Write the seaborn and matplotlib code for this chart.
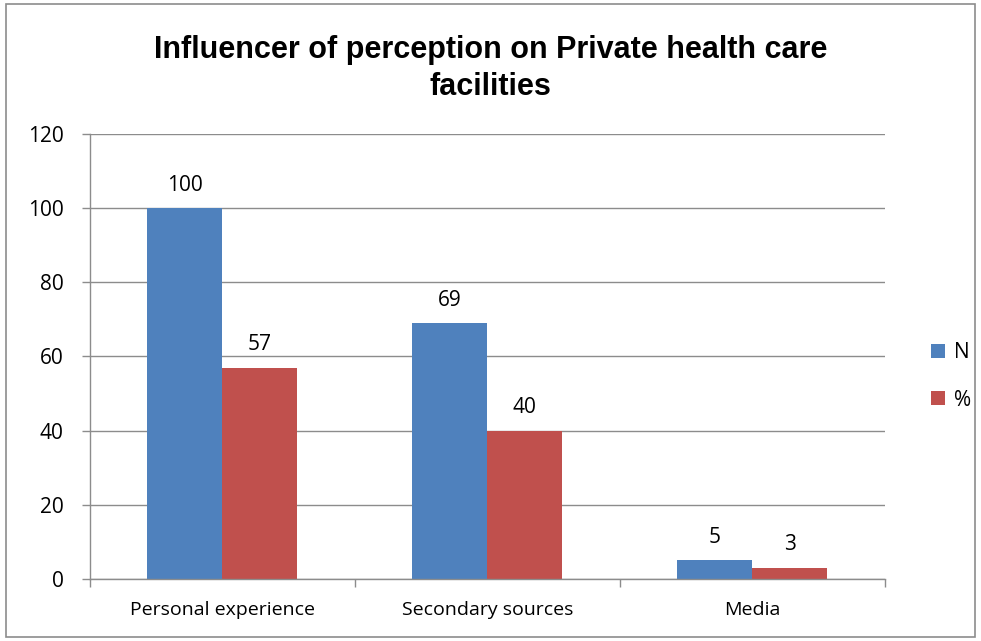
import matplotlib
matplotlib.use("Agg")
import matplotlib.pyplot as plt
import seaborn as sns
import pandas as pd
from matplotlib.patches import Rectangle

categories = ["Personal experience", "Secondary sources", "Media"]
series = ["N", "%"]
n_values = [100, 69, 5]
pct_values = [57, 40, 3]
yticks = [0, 20, 40, 60, 80, 100, 120]

df = pd.DataFrame({
    "category": categories * 2,
    "series": ["N"] * 3 + ["%"] * 3,
    "value": n_values + pct_values,
})

sns.set_theme(style="white")
plt.rcParams["font.family"] = ["Open Sans", "DejaVu Sans"]
plt.rcParams["text.color"] = "black"
plt.rcParams["xtick.color"] = "black"
plt.rcParams["ytick.color"] = "black"

fig = plt.figure(figsize=(9.81, 6.41), dpi=100)
ax = fig.add_axes([0.0917, 0.0967, 0.8103, 0.6943])

palette = {"N": "#4F81BD", "%": "#C0504D"}
sns.barplot(data=df, x="category", y="value", hue="series", hue_order=series,
            palette=palette, width=0.566, gap=0, saturation=1, ax=ax,
            legend=True, linewidth=0, errorbar=None)

ax.set_ylim(0, 120)
ax.set_xlim(-0.5, 2.5)
ax.set_yticks(yticks)
ax.set_yticklabels([str(t) for t in yticks], fontsize=15)
ax.yaxis.grid(True, color="#8C8C8C", linewidth=1)
ax.set_axisbelow(True)
ax.set_xlabel("")
ax.set_ylabel("")
ax.tick_params(axis="x", labelsize=14, length=0, pad=16, labelcolor="black")
ax.tick_params(axis="y", length=6, width=1, color="#8C8C8C", direction="out", left=True, pad=13, labelcolor="black")
for s in ["top", "right"]:
    ax.spines[s].set_visible(False)
for s in ["left", "bottom"]:
    ax.spines[s].set_color("#8C8C8C")
    ax.spines[s].set_linewidth(1)
ax.set_xticks([-0.5, 0.5, 1.5, 2.5], minor=True)
ax.tick_params(axis="x", which="minor", length=6, width=1, color="#8C8C8C", direction="out", bottom=True)

for cont in ax.containers:
    ax.bar_label(cont, labels=[f"{v:.0f}" for v in cont.datavalues], padding=9,
                 fontsize=15, color="black")

leg = ax.legend(loc="center left", bbox_to_anchor=(1.035, 0.455), frameon=False,
                fontsize=15, handlelength=0.65, handleheight=0.65, labelspacing=1.25,
                handletextpad=0.45)
for t in leg.get_texts():
    t.set_color("black")

fig.text(0.5, 0.893, "Influencer of perception on Private health care\nfacilities",
         fontsize=22, fontweight="bold", ha="center", va="center", linespacing=1.3,
         family=["Liberation Sans", "DejaVu Sans"], color="black")

fig.patches.append(Rectangle((0.006, 0.006), 0.988, 0.988, transform=fig.transFigure,
                             fill=False, edgecolor="#8C8C8C", linewidth=1.2))

fig.savefig("out.png", dpi=100)
